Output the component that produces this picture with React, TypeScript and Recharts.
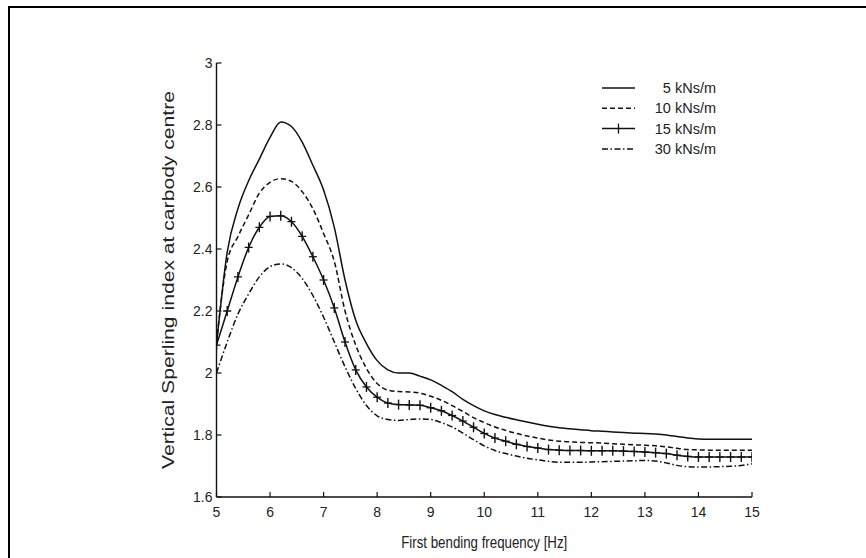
import React from "react";
import { LineChart, Line, XAxis, YAxis, Legend } from "recharts";

const FREQ = [
  5, 5.2, 5.4, 5.6, 5.8, 6, 6.2, 6.4, 6.6, 6.8, 7, 7.2, 7.4, 7.6, 7.8,
  8, 8.2, 8.4, 8.6, 8.8, 9, 9.2, 9.4, 9.6, 9.8, 10, 10.2, 10.4, 10.6, 10.8,
  11, 11.2, 11.4, 11.6, 11.8, 12, 12.2, 12.4, 12.6, 12.8, 13, 13.2, 13.4, 13.6, 13.8,
  14, 14.2, 14.4, 14.6, 14.8, 15,
];

const S5 = [
  2.09, 2.39, 2.53, 2.62, 2.69,
  2.76, 2.81, 2.795, 2.745, 2.67,
  2.59, 2.47, 2.3, 2.17, 2.095,
  2.04, 2.01, 2.0, 2.0, 1.99,
  1.978, 1.96, 1.94, 1.915, 1.895,
  1.878, 1.866, 1.857, 1.849, 1.842,
  1.835, 1.828, 1.823, 1.82, 1.817,
  1.814, 1.812, 1.81, 1.808, 1.806,
  1.805, 1.803, 1.8, 1.795, 1.79,
  1.787, 1.786, 1.786, 1.786, 1.786,
  1.786,
];

const S10 = [
  2.1, 2.36, 2.44, 2.51, 2.58,
  2.615, 2.627, 2.618, 2.585, 2.53,
  2.45, 2.36, 2.2, 2.09, 2.015,
  1.966, 1.945, 1.94, 1.939, 1.935,
  1.925, 1.912, 1.895, 1.876, 1.856,
  1.84, 1.826, 1.815, 1.805, 1.797,
  1.79, 1.784, 1.78, 1.778, 1.776,
  1.775, 1.774, 1.772, 1.77, 1.768,
  1.767, 1.765, 1.762, 1.757, 1.753,
  1.752, 1.751, 1.751, 1.751, 1.751,
  1.751,
];

const S15 = [
  2.09, 2.2, 2.31, 2.405, 2.47,
  2.505, 2.507, 2.488, 2.441, 2.375,
  2.3, 2.21, 2.1, 2.01, 1.955,
  1.922, 1.903, 1.898, 1.897, 1.896,
  1.888, 1.878, 1.863, 1.845, 1.825,
  1.805, 1.79, 1.78, 1.77, 1.763,
  1.758, 1.753, 1.751, 1.75, 1.75,
  1.749, 1.749, 1.749, 1.748, 1.747,
  1.745, 1.743, 1.74, 1.735, 1.731,
  1.729, 1.729, 1.729, 1.729, 1.729,
  1.729,
];

const S30 = [
  2.0, 2.1, 2.19, 2.255, 2.31,
  2.343, 2.352, 2.34, 2.305, 2.25,
  2.18, 2.1, 2.02, 1.95, 1.895,
  1.862, 1.85, 1.847, 1.85, 1.852,
  1.85, 1.84, 1.826, 1.806, 1.785,
  1.765, 1.75, 1.74, 1.732, 1.725,
  1.72, 1.715, 1.712, 1.712, 1.712,
  1.713, 1.714, 1.715, 1.716, 1.717,
  1.718, 1.716, 1.71, 1.702, 1.698,
  1.697, 1.697, 1.698, 1.699, 1.702,
  1.707,
];

const X_TICKS = [5, 6, 7, 8, 9, 10, 11, 12, 13, 14, 15];
const Y_TICKS = [1.6, 1.8, 2, 2.2, 2.4, 2.6, 2.8, 3];

const SERIES_NAMES = ["5 kNs/m", "10 kNs/m", "15 kNs/m", "30 kNs/m"];
const SERIES_KEYS = ["s5", "s10", "s15", "s30"];
const SERIES_DASH = ["", "5 3", "", "6 2.5 1.5 2.5"];
const SERIES_MARK = [false, false, true, false];

const data = FREQ.map((f, i) => ({
  f,
  s5: S5[i],
  s10: S10[i],
  s15: S15[i],
  s30: S30[i],
}));

const FONT = "'Liberation Sans', Arial, Helvetica, sans-serif";
const INK = "#111";
const TXT = "#222";

const PlusDot = (props: any) => {
  const { cx, cy, index } = props;
  if (cx == null || cy == null) return <g key={`p${index}`} />;
  return (
    <g key={`p${index}`}>
      <line x1={cx - 4} y1={cy} x2={cx + 4} y2={cy} stroke={INK} strokeWidth={1.3} />
      <line x1={cx} y1={cy - 5} x2={cx} y2={cy + 5} stroke={INK} strokeWidth={1.4} />
    </g>
  );
};

const XTick = (props: any) => {
  const { x, y, payload } = props;
  return (
    <g>
      <line x1={x} y1={y} x2={x} y2={y - 5} stroke={INK} strokeWidth={1.2} />
      <text x={x} y={y + 20} textAnchor="middle" fontSize={14} fill={TXT} fontFamily={FONT}>
        {String(payload.value)}
      </text>
    </g>
  );
};

const YTick = (props: any) => {
  const { x, y, payload } = props;
  return (
    <g>
      <line x1={x} y1={y} x2={x + 5} y2={y} stroke={INK} strokeWidth={1.2} />
      <text x={x - 4} y={y + 5} textAnchor="end" fontSize={14} fill={TXT} fontFamily={FONT}>
        {String(payload.value)}
      </text>
    </g>
  );
};

const XLabel = (props: any) => {
  const vb = props.viewBox || {};
  return (
    <text
      x={vb.x + vb.width / 2}
      y={vb.y + 51}
      textAnchor="middle"
      fontSize={16}
      fill={TXT}
      fontFamily={FONT}
      textLength={166}
      lengthAdjust="spacingAndGlyphs"
    >
      First bending frequency [Hz]
    </text>
  );
};

const YLabel = (props: any) => {
  const vb = props.viewBox || {};
  const cx = vb.x + 12;
  const cy = vb.y + vb.height / 2;
  return (
    <text
      x={cx}
      y={cy}
      transform={`rotate(-90 ${cx} ${cy})`}
      textAnchor="middle"
      dominantBaseline="central"
      fontSize={16}
      fill={TXT}
      fontFamily={FONT}
      textLength={378}
      lengthAdjust="spacingAndGlyphs"
    >
      Vertical Sperling index at carbody centre
    </text>
  );
};

const LegendBox = () => {
  const rowH = 20.3;
  return (
    <svg width={130} height={86} style={{ overflow: "visible", display: "block" }}>
      {SERIES_NAMES.map((name, i) => {
        const y = 11 + i * rowH;
        return (
          <g key={name}>
            <line
              x1={7}
              y1={y}
              x2={40}
              y2={y}
              stroke={INK}
              strokeWidth={1.5}
              strokeDasharray={SERIES_DASH[i] || undefined}
            />
            {SERIES_MARK[i] ? (
              <line x1={23.5} y1={y - 5} x2={23.5} y2={y + 5} stroke={INK} strokeWidth={1.3} />
            ) : null}
            <text x={121} y={y + 5} textAnchor="end" fontSize={14.5} fill={TXT} fontFamily={FONT}>
              {name}
            </text>
          </g>
        );
      })}
    </svg>
  );
};

export default function App() {
  return (
    <div style={{ position: "absolute", left: 0, top: 0, width: 866, height: 558, background: "#fff", overflow: "hidden" }}>
      <div
        style={{
          position: "absolute",
          left: 8,
          top: 6,
          width: 880,
          height: 580,
          borderLeft: "2.5px solid #000",
          borderTop: "2.5px solid #000",
          boxSizing: "border-box",
        }}
      />
      <div style={{ position: "absolute", left: 0, top: 0 }}>
        <LineChart
          width={866}
          height={558}
          data={data}
          margin={{ top: 63, right: 114, bottom: 31, left: 156.5 }}
        >
          <XAxis
            dataKey="f"
            type="number"
            domain={[5, 15]}
            ticks={X_TICKS}
            interval={0}
            height={30}
            tickSize={0}
            tickMargin={0}
            tick={<XTick />}
            tickLine={false}
            axisLine={{ stroke: INK, strokeWidth: 1.4 }}
            label={<XLabel />}
            allowDataOverflow
          />
          <YAxis
            type="number"
            domain={[1.6, 3]}
            ticks={Y_TICKS}
            interval={0}
            width={60}
            tickSize={0}
            tickMargin={0}
            tick={<YTick />}
            tickLine={false}
            axisLine={{ stroke: INK, strokeWidth: 1.4 }}
            label={<YLabel />}
            allowDataOverflow
          />
          <Legend
            content={<LegendBox />}
            wrapperStyle={{ position: "absolute", left: 595, top: 77, width: 0, height: 0, overflow: "visible" }}
          />
          {SERIES_KEYS.map((k, i) => (
            <Line
              key={k}
              dataKey={k}
              name={SERIES_NAMES[i]}
              type="monotone"
              stroke={INK}
              strokeWidth={1.5}
              strokeDasharray={SERIES_DASH[i] || undefined}
              dot={SERIES_MARK[i] ? <PlusDot /> : false}
              activeDot={false}
              isAnimationActive={false}
            />
          ))}
        </LineChart>
      </div>
    </div>
  );
}
